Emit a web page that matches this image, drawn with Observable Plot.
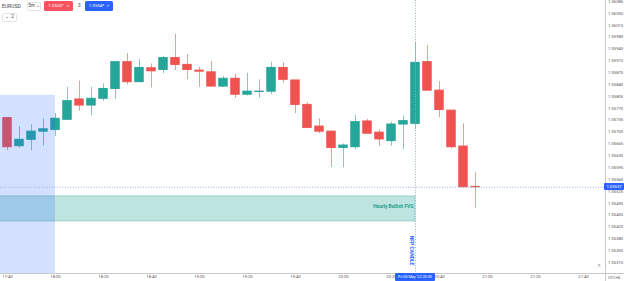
<!DOCTYPE html>
<html><head><meta charset="utf-8">
<script src="https://cdn.jsdelivr.net/npm/d3@7"></script>
<script src="https://cdn.jsdelivr.net/npm/@observablehq/plot@0.6"></script>
<style>
body{margin:0;background:#fff;font-family:Roboto,"Liberation Sans",sans-serif;}
#wrap{position:relative;width:624px;height:281px;overflow:hidden;background:#fff;}
.ov{position:absolute;white-space:nowrap;line-height:1;box-sizing:border-box;}
</style></head><body><div id="wrap"></div>
<script>
const times = ["17:40","17:45","17:50","17:55","18:00","18:05","18:10","18:15","18:20","18:25",
  "18:30","18:35","18:40","18:45","18:50","18:55","19:00","19:05","19:10","19:15",
  "19:20","19:25","19:30","19:35","19:40","19:45","19:50","19:55","20:00","20:05",
  "20:10","20:15","20:20","20:25","20:30","20:35","20:40","20:45","20:50","20:55"];
const open = [1.05741,1.05658,1.05677,1.05701,1.05706,1.05736,1.05796,1.05778,1.05798,1.05827,
  1.05906,1.05847,1.05888,1.05883,1.05918,1.05898,1.05881,1.05876,1.05834,1.05857,
  1.05810,1.05818,1.05819,1.05889,1.05852,1.05780,1.05716,1.05701,1.05653,1.05655,
  1.05731,1.05698,1.05673,1.05722,1.05724,1.05906,1.05822,1.05763,1.05657,1.05538];
const high = [1.05742,1.05716,1.05721,1.05739,1.05755,1.05832,1.05850,1.05832,1.05842,1.05908,
  1.05931,1.05914,1.05901,1.05923,1.05988,1.05929,1.05891,1.05908,1.05864,1.05870,
  1.05873,1.05854,1.05906,1.05904,1.05852,1.05786,1.05739,1.05701,1.05665,1.05749,
  1.05737,1.05706,1.05729,1.05747,1.05965,1.05955,1.05849,1.05763,1.05724,1.05580];
const low = [1.05645,1.05652,1.05645,1.05658,1.05687,1.05734,1.05761,1.05748,1.05791,1.05796,
  1.05839,1.05846,1.05830,1.05872,1.05881,1.05854,1.05832,1.05833,1.05832,1.05800,
  1.05806,1.05800,1.05810,1.05844,1.05754,1.05712,1.05695,1.05596,1.05594,1.05648,
  1.05693,1.05658,1.05658,1.05648,1.05707,1.05822,1.05742,1.05650,1.05537,1.05475];
const close = [1.05655,1.05677,1.05701,1.05708,1.05739,1.05791,1.05778,1.05798,1.05827,1.05906,
  1.05847,1.05889,1.05879,1.05918,1.05898,1.05883,1.05878,1.05834,1.05857,1.05810,
  1.05819,1.05819,1.05889,1.05854,1.05780,1.05712,1.05701,1.05653,1.05660,1.05729,
  1.05695,1.05678,1.05722,1.05732,1.05904,1.05822,1.05765,1.05655,1.05537,1.05537];
const priceTicks = [1.06085,1.06050,1.06015,1.05980,1.05945,1.05910,1.05875,1.05840,1.05805,1.05770,
  1.05735,1.05700,1.05665,1.05630,1.05595,1.05560,1.05525,1.05490,1.05455,1.05420,1.05385,1.05350,1.05315];
const timeTicks = ["17:40","18:00","18:20","18:40","19:00","19:20","19:40","20:00","20:20","20:40","21:00","21:20","21:40"];
const fvgTimes = ["17:35","20:30"];
const fvgPrices = [1.05436,1.05510];
const boxTimes = ["17:35","18:00"];
const boxPrices = [1.05808,1.05282];
const crossTime = "20:30";
const crossPrice = 1.05537;
const crossTimeLabel = "Fri 06 May '22 20:30";
const xDomain = ["17:37:05","21:49:10"];
const yDomain = [1.052824,1.06088];

const toMin = s => { const p = s.split(":").map(Number); return (p[0]-17)*60 + p[1] - 40 + (p[2]||0)/60; };
const GREEN = "#26a69a", RED = "#ef5350";
const candles = times.map((t,i)=>({t:toMin(t),o:open[i],h:high[i],l:low[i],c:close[i],col:close[i]>=open[i]?GREEN:RED}));
const ct = toMin(crossTime);
const fvgMid = (fvgPrices[0]+fvgPrices[1])/2;

const plot = Plot.plot({
  width: 624, height: 281,
  marginLeft: 0, marginRight: 19, marginTop: 0, marginBottom: 8,
  style: {fontFamily: "Roboto, sans-serif", fontSize: "4.2px", color: "#555", background: "white", overflow: "visible"},
  x: {domain: xDomain.map(toMin), type: "linear", label: null},
  y: {domain: yDomain, type: "linear", label: null},
  marks: [
    Plot.rect([0], {x1: toMin(fvgTimes[0]), x2: toMin(fvgTimes[1]), y1: fvgPrices[0], y2: fvgPrices[1],
      fill: GREEN, fillOpacity: 0.3, stroke: GREEN, strokeOpacity: 0.35, clip: true}),
    Plot.text([0], {x: toMin(fvgTimes[1]), y: fvgMid, text: ["Hourly Bullish FVG"], textAnchor: "end", dx: -2, dy: -2,
      fill: "#1e9c88", fontWeight: "bold", fontSize: 4.8}),
    Plot.ruleX(candles, {x: "t", y1: "l", y2: "h", stroke: "col", strokeOpacity: 0.6, strokeWidth: 1}),
    Plot.rect(candles, {x1: d => d.t - 1.75, x2: d => d.t + 1.75, y1: "o", y2: "c", fill: "col", stroke: "col", strokeWidth: 1}),
    Plot.rect([0], {x1: toMin(boxTimes[0]), x2: toMin(boxTimes[1]), y1: boxPrices[0], y2: boxPrices[1],
      fill: "#2962ff", fillOpacity: 0.2, clip: true}),
    Plot.ruleX([ct], {stroke: "#94aed6", strokeDasharray: "1,1.6", strokeWidth: 1}),
    Plot.ruleY([crossPrice], {stroke: "#94aed6", strokeDasharray: "1,1.6", strokeWidth: 1}),
    Plot.text([0], {x: ct, y: 1.05350, text: ["NFP CANDLE"], rotate: 90, dx: -4, fill: "#2962ff", fontWeight: "bold", fontSize: 5}),
    Plot.ruleY([yDomain[0]], {x1: toMin(xDomain[0]), x2: toMin("21:57"), stroke: "#c8c8c8"}),
    Plot.ruleX([toMin(xDomain[1])], {y1: yDomain[0] - 0.00025, y2: yDomain[1], stroke: "#c8c8c8"}),
    Plot.axisY({anchor: "right", label: null, ticks: priceTicks, tickFormat: d3.format(".5f"), tickSize: 0, tickPadding: 2.5, fontSize: 4.2, fill: "#555"}),
    Plot.axisX({anchor: "bottom", label: null, ticks: timeTicks.map(toMin), tickFormat: d => timeTicks[timeTicks.map(toMin).indexOf(d)], tickSize: 0, tickPadding: 2, fontSize: 4.2, fill: "#555"})
  ]
});
const wrap = document.getElementById("wrap");
wrap.appendChild(plot);
plot.style.position = "absolute"; plot.style.left = "0"; plot.style.top = "0";

function ov(html, css){ const d = document.createElement("div"); d.className = "ov"; d.innerHTML = html; Object.assign(d.style, css); wrap.appendChild(d); return d; }
const px = plot.scale("x").apply(ct);
const py = plot.scale("y").apply(crossPrice);
ov(crossTimeLabel, {left:(px-20)+"px", top:"273px", width:"40px", height:"8px", background:"#2962ff", color:"#fff", fontSize:"3.8px", display:"flex", alignItems:"center", justifyContent:"center", borderRadius:"1px"});
ov(d3.format(".5f")(crossPrice), {left:"604px", top:(py-3.5)+"px", width:"20px", height:"7px", background:"#2962ff", color:"#fff", fontSize:"4.2px", display:"flex", alignItems:"center", justifyContent:"center", borderRadius:"1px"});
ov("UTC+8", {left:"608px", top:"275.5px", color:"#555", fontSize:"4px"});
ov("✕", {left:"595px", top:"263px", width:"7px", height:"7px", color:"#999", fontSize:"4.5px", display:"flex", alignItems:"center", justifyContent:"center"});
// toolbar
ov("EURUSD", {left:"2px", top:"3.5px", color:"#444", fontSize:"5px"});
ov("5m ⌄", {left:"27px", top:"1.5px", width:"14px", height:"9px", border:"0.5px solid #e3e3e3", borderRadius:"1.5px", color:"#444", fontSize:"4.6px", display:"flex", alignItems:"center", justifyContent:"center"});
ov("1.0553⁷ &nbsp;↘", {left:"44px", top:"1px", width:"29px", height:"10px", background:"#f7525f", color:"#fff", fontSize:"4.4px", borderRadius:"1.5px", display:"flex", alignItems:"center", justifyContent:"center"});
ov("3", {left:"78px", top:"3.5px", color:"#444", fontSize:"4.6px"});
ov("1.0554⁰ &nbsp;↗", {left:"85px", top:"1px", width:"28px", height:"10px", background:"#2962ff", color:"#fff", fontSize:"4.4px", borderRadius:"1.5px", display:"flex", alignItems:"center", justifyContent:"center"});
ov("⌄&nbsp; 2", {left:"2px", top:"13px", width:"15px", height:"9px", border:"0.5px solid #e3e3e3", borderRadius:"1.5px", color:"#444", fontSize:"4.6px", display:"flex", alignItems:"center", justifyContent:"center"});
</script></body></html>
